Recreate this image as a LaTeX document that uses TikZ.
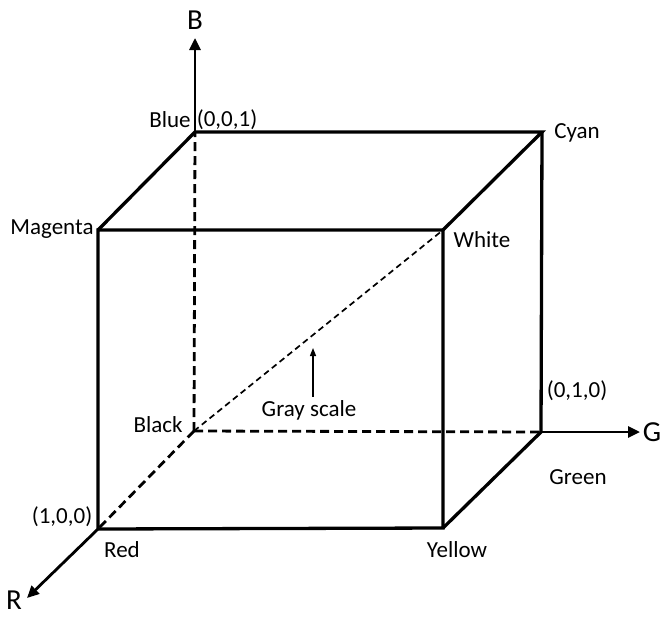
\documentclass[tikz,border=0pt]{standalone}
\usepackage{fontspec}
\setmainfont{Carlito}
\usepackage{tikz}
\usetikzlibrary{arrows.meta,positioning}

\begin{document}
\begin{tikzpicture}[
        x=1pt, y=-1pt,
        edge/.style={line width=3.3pt, line join=miter},
        hidden/.style={line width=2.8pt, dash pattern=on 9pt off 5pt},
        diag/.style={line width=1.7pt, dash pattern=on 6pt off 4pt},
        axis/.style={-{Triangle[length=12pt, width=11pt]}, line width=2.8pt},
        thinarrow/.style={-{Triangle[length=8pt, width=6pt]}, line width=1.4pt},
        lbl/.style={font=\fontsize{23}{26}\selectfont, inner sep=0pt},
        axislbl/.style={font=\fontsize{29}{32}\selectfont, inner sep=0pt}
    ]
    \useasboundingbox (0,0) rectangle (663,616);

    % cube corners
    \coordinate (black)   at (194,431);
    \coordinate (blue)    at (195,132);
    \coordinate (cyan)    at (542,132);
    \coordinate (green)   at (541,432);
    \coordinate (magenta) at (98,230);
    \coordinate (white)   at (443,230);
    \coordinate (red)     at (98,529);
    \coordinate (yellow)  at (443,528);

    % axis ends
    \coordinate (btip) at (195,38);
    \coordinate (gtip) at (640,432);
    \coordinate (rtip) at (27,598);

    % hidden edges
    \draw[hidden] (black) -- (blue);
    \draw[hidden] (black) -- (green);
    \draw[hidden] (black) -- (red);
    \draw[diag] (black) -- (white);

    % visible edges
    \draw[edge] (red) -- (magenta) -- (white) -- (yellow) -- cycle;
    \draw[edge] (magenta) -- (blue) -- (cyan) -- (white);
    \draw[edge] (cyan) -- (green) -- (yellow);

    % axes
    \draw[axis] (blue) -- (btip);
    \draw[axis] (green) -- (gtip);
    \draw[axis] (red) -- (rtip);

    \node[axislbl] (blbl) at (195,20) {B};
    \node[axislbl] (glbl) at (652,432) {G};
    \node[axislbl] (rlbl) at (14,600) {R};

    % corner labels
    \node[lbl] (bluetxt)    at (170,120) {Blue};
    \node[lbl] (bluecoord)  at (227,120) {(0,0,1)};
    \node[lbl] (magentatxt) at (52,229) {Magenta};
    \node[lbl] (cyantxt)    at (577,133) {Cyan};
    \node[lbl] (whitetxt)   at (482,240) {White};
    \node[lbl] (blacktxt)   at (158,425) {Black};
    \node[lbl] (redcoord)   at (62,517) {(1,0,0)};
    \node[lbl] (redtxt)     at (122,550) {Red};
    \node[lbl] (greencoord) at (577,391) {(0,1,0)};
    \node[lbl] (greentxt)   at (578,477) {Green};
    \node[lbl] (yellowtxt)  at (457,550) {Yellow};

    % gray scale
    \node[lbl] (graytxt) at (309,410) {Gray scale};
    \coordinate (graytip) at (313,348);
    \draw[thinarrow] (graytxt.north -| graytip) ++(0,-3) -- (graytip);

\end{tikzpicture}
\end{document}
